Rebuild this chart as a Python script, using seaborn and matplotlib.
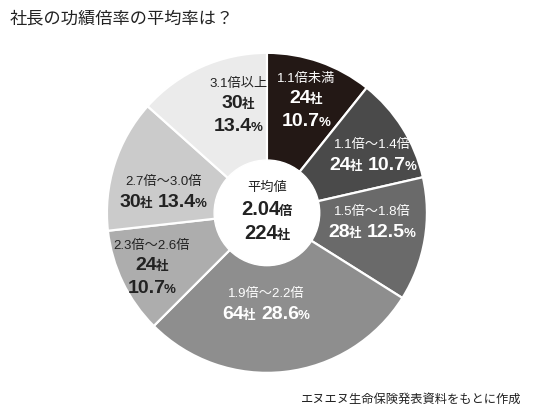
import matplotlib
matplotlib.use("Agg")
import matplotlib.pyplot as plt
import seaborn as sns
import numpy as np
from matplotlib.offsetbox import TextArea, HPacker, VPacker, AnnotationBbox

# データ
categories = ["1.1倍未満", "1.1倍〜1.4倍", "1.5倍〜1.8倍", "1.9倍〜2.2倍",
              "2.3倍〜2.6倍", "2.7倍〜3.0倍", "3.1倍以上"]
companies = [24, 24, 28, 64, 24, 30, 30]
percents = ["10.7", "10.7", "12.5", "28.6", "10.7", "13.4", "13.4"]
avg_ratio = "2.04"
total = "224"

sns.set_theme(style="white")
colors = ["#231815", "#4a4a4a", "#6a6a6a", "#8e8e8e", "#adadad", "#cbcbcb", "#ebebeb"]
text_colors = ["white", "white", "white", "white", "#222222", "#222222", "#222222"]
# ラベルの置き方 (半径, 角度の補正, 2行か3行か)
label_r = [0.74, 0.75, 0.66, 0.58, 0.80, 0.66, 0.69]
label_da = [0, -4, 4, -7, 0, 7, -9]
stacked = [True, False, False, False, True, False, True]

plt.rcParams["font.family"] = ["Liberation Sans", "Noto Sans CJK JP"]

fig = plt.figure(figsize=(5.4, 4.18), dpi=100)
ax = fig.add_axes([0.198, 0.108, 0.5926, 0.7656])
wedges, _ = ax.pie(companies, colors=colors, startangle=90, counterclock=False,
                   radius=1, wedgeprops=dict(edgecolor="white", linewidth=1.6))
ax.add_patch(plt.Circle((0, 0), 0.33, color="white", zorder=3))
ax.set_xlim(-1, 1)
ax.set_ylim(-1, 1)
ax.set_aspect("equal")
ax.axis("off")


def ta(s, size, color, bold=False):
    return TextArea(s, textprops=dict(size=size, color=color,
                                      weight="bold" if bold else "normal"))


def num_line(num, unit, size, small, color):
    return HPacker(children=[ta(num, size, color, True), ta(unit, small, color, True)],
                   pad=0, sep=-1, align="baseline")


for i, w in enumerate(wedges):
    ang = np.deg2rad((w.theta1 + w.theta2) / 2 + label_da[i])
    x, y = label_r[i] * np.cos(ang), label_r[i] * np.sin(ang)
    c = text_colors[i]
    head = ta(categories[i], 9.5, c)
    cnt = num_line(str(companies[i]), "社", 14, 9, c)
    pct = num_line(percents[i], "%", 14, 9.5, c)
    if stacked[i]:
        rows = [head, cnt, pct]
    else:
        rows = [head, HPacker(children=[cnt, pct], pad=0, sep=4, align="baseline")]
    box = VPacker(children=rows, pad=0, sep=4, align="center")
    ab = AnnotationBbox(box, (x, y), frameon=False, box_alignment=(0.5, 0.5), zorder=5)
    ax.add_artist(ab)

center = VPacker(children=[ta("平均値", 9.5, "#222222"),
                           num_line(avg_ratio, "倍", 14.5, 9.5, "#222222"),
                           num_line(total, "社", 14.5, 9.5, "#222222")],
                 pad=0, sep=4, align="center")
ax.add_artist(AnnotationBbox(center, (0, 0), frameon=False, box_alignment=(0.5, 0.5), zorder=5))

fig.text(0.018, 0.955, "社長の功績倍率の平均率は？", size=12.4, color="#222222",
         va="center", ha="left")
fig.text(0.966, 0.043, "エヌエヌ生命保険発表資料をもとに作成", size=8.8, color="#222222",
         va="center", ha="right")

fig.savefig("out.png", dpi=100, facecolor="white")
